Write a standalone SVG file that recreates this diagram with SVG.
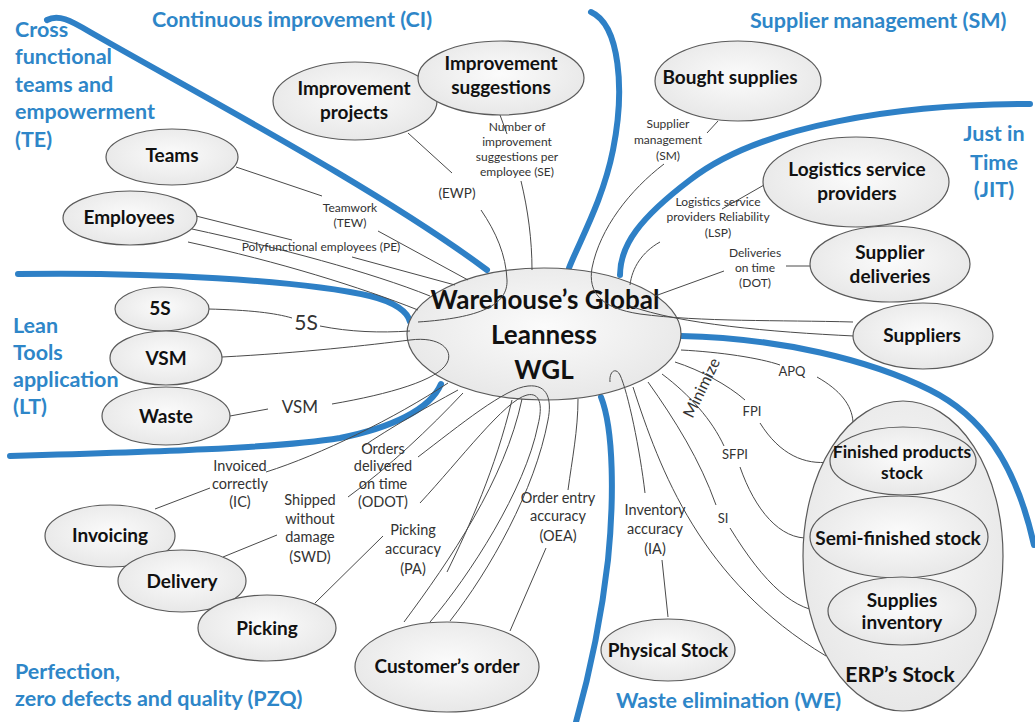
<svg xmlns="http://www.w3.org/2000/svg" width="1035" height="722" viewBox="0 0 1035 722">
<style>
.bg{fill:#ffffff}
.blue{fill:none;stroke:#2e80c6;stroke-width:6;stroke-linecap:round}
.hd{font-family:Lato,"Liberation Sans",sans-serif;font-weight:bold;font-size:21.5px;fill:#2e86c8}
.nd{fill:url(#ng);stroke:#5a5a5a;stroke-width:1.2}
.nt{font-family:Lato,"Liberation Sans",sans-serif;font-weight:bold;font-size:19px;fill:#111;text-anchor:middle}
.c{fill:none;stroke:#4a4a4a;stroke-width:1}
.sl{font-family:Lato,"Liberation Sans",sans-serif;font-size:12px;fill:#333;text-anchor:middle}
.ml{font-family:Lato,"Liberation Sans",sans-serif;font-size:14.5px;fill:#333;text-anchor:middle}
.kl{font-family:Lato,"Liberation Sans",sans-serif;font-size:13px;fill:#333;text-anchor:middle}
</style>
<defs>
<radialGradient id="ng" cx="50%" cy="45%" r="60%">
<stop offset="0" stop-color="#fbfbfb"/>
<stop offset="1" stop-color="#e6e6e6"/>
</radialGradient>
</defs>
<rect class="bg" x="0" y="0" width="1035" height="722"/>

<g id="dividers">
<path class="blue" d="M47,20 C58,14 70,20 90,32 C200,95 380,190 487,270"/>
<path class="blue" d="M591,12 C620,25 625,90 613,150 C603,200 580,240 569,268"/>
<path class="blue" d="M1030,104 C900,104 760,125 690,180 C640,218 620,245 620,275"/>
<path class="blue" d="M18,274 C150,272 300,280 370,296 C395,302 408,312 410,322"/>
<path class="blue" d="M10,456 C150,452 280,448 340,438 C390,428 430,410 441,384"/>
<path class="blue" d="M601,397 C614,430 614,500 608,560 C600,630 585,690 576,722"/>
<path class="blue" d="M681,336 C780,338 870,360 930,390 C980,415 1015,460 1034,545"/>
</g>

<g id="section-labels">
<text class="hd" x="15" y="37">Cross</text>
<text class="hd" x="15" y="64">functional</text>
<text class="hd" x="15" y="92">teams and</text>
<text class="hd" x="15" y="119">empowerment</text>
<text class="hd" x="15" y="147">(TE)</text>
<text class="hd" x="152" y="27">Continuous improvement (CI)</text>
<text class="hd" x="750" y="28">Supplier management (SM)</text>
<text class="hd" x="994" y="141" text-anchor="middle">Just in</text>
<text class="hd" x="994" y="170" text-anchor="middle">Time</text>
<text class="hd" x="994" y="197" text-anchor="middle">(JIT)</text>
<text class="hd" x="13" y="333">Lean</text>
<text class="hd" x="13" y="360">Tools</text>
<text class="hd" x="13" y="387">application</text>
<text class="hd" x="13" y="414">(LT)</text>
<text class="hd" x="15" y="679">Perfection,</text>
<text class="hd" x="15" y="706">zero defects and quality (PZQ)</text>
<text class="hd" x="616" y="708">Waste elimination (WE)</text>
</g>

<g id="node-wgl">
<ellipse class="nd" cx="544" cy="334" rx="137" ry="66"/>
<text class="nt" style="font-size:26px" x="545" y="309">Warehouse’s Global</text>
<text class="nt" style="font-size:26px" x="544" y="344">Leanness</text>
<text class="nt" style="font-size:26px" x="544" y="379">WGL</text>
</g>

<g id="connectors">
<path class="c" d="M236,167 L322,196"/>
<path class="c" d="M378,231 L468,280"/>
<path class="c" d="M196,216 L292,240"/>
<path class="c" d="M352,257 L455,285"/>
<path class="c" d="M192,229 C280,248 370,272 430,296"/>
<path class="c" d="M188,242 C280,262 360,287 418,310"/>
<path class="c" d="M408,133 L452,173"/>
<path class="c" d="M481,210 C496,232 506,255 507,280 C508,305 480,318 418,322"/>
<path class="c" d="M500,115 L507,134"/>
<path class="c" d="M521,181 C528,210 532,240 532,270"/>
<path class="c" d="M718,121 L707,133"/>
<path class="c" d="M664,164 C630,190 600,228 592,268 C588,292 600,308 640,314 C700,322 780,320 853,322"/>
<path class="c" d="M630,306 C680,324 770,332 854,336"/>
<path class="c" d="M764,185 L722,209"/>
<path class="c" d="M660,242 C642,252 632,268 630,285"/>
<path class="c" d="M810,266 L786,266"/>
<path class="c" d="M724,271 L655,296"/>
<path class="c" d="M208,309 C250,310 275,313 292,318"/>
<path class="c" d="M320,326 C350,332 380,333 410,331"/>
<path class="c" d="M222,357 C300,353 370,345 410,340 C440,336 454,350 447,363 C438,380 390,394 332,404"/>
<path class="c" d="M230,416 L268,409"/>
<path class="c" d="M155,509 L210,488"/>
<path class="c" d="M266,472 C320,455 395,418 448,383"/>
<path class="c" d="M223,557 L277,535"/>
<path class="c" d="M348,497 C388,468 430,428 463,393"/>
<path class="c" d="M315,603 L383,536"/>
<path class="c" d="M447,572 C470,525 495,470 512,400"/>
<path class="c" d="M362,447 C390,428 425,408 458,390"/>
<path class="c" d="M404,622 C450,560 505,480 522,399"/>
<path class="c" d="M418,457 C460,425 505,388 528,386 C548,384 552,400 548,420 C535,490 490,570 450,621"/>
<path class="c" d="M420,503 C460,460 505,400 527,395 C540,392 543,405 538,425 C525,490 470,575 430,622"/>
<path class="c" d="M510,631 L546,548"/>
<path class="c" d="M568,490 C572,460 578,430 578,399"/>
<path class="c" d="M668,617 L662,560"/>
<path class="c" d="M645,493 C640,450 628,392 620,375 C616,367 609,371 610,382"/>
<path class="c" d="M633,387 C660,470 700,580 826,656"/>
<path class="c" d="M648,382 C675,420 700,460 716,505"/>
<path class="c" d="M730,528 C765,585 795,612 828,612"/>
<path class="c" d="M662,374 C690,395 712,420 724,446"/>
<path class="c" d="M740,467 C755,510 780,540 810,538"/>
<path class="c" d="M675,362 C700,370 728,385 745,400"/>
<path class="c" d="M760,423 C780,455 805,465 830,462"/>
<path class="c" d="M681,350 C720,352 760,358 780,365"/>
<path class="c" d="M817,377 C840,390 852,405 853,422"/>
</g>

<g id="connector-labels">
<text class="sl" x="517" y="131">Number of</text>
<text class="sl" x="517" y="146">improvement</text>
<text class="sl" x="517" y="161">suggestions per</text>
<text class="sl" x="517" y="176">employee  (SE)</text>
<text class="sl" style="font-size:13.5px" x="457" y="198">(EWP)</text>
<text class="sl" x="350" y="212">Teamwork</text>
<text class="sl" x="350" y="227">(TEW)</text>
<text class="sl" x="321" y="251">Polyfunctional employees (PE)</text>
<text class="sl" x="668" y="128">Supplier</text>
<text class="sl" x="668" y="144">management</text>
<text class="sl" x="668" y="160">(SM)</text>
<text class="sl" x="718" y="206">Logistics service</text>
<text class="sl" x="718" y="221">providers Reliability</text>
<text class="sl" x="718" y="237">(LSP)</text>
<text class="sl" x="755" y="257">Deliveries</text>
<text class="sl" x="755" y="272">on time</text>
<text class="sl" x="755" y="287">(DOT)</text>
<text class="sl" style="font-size:21px" x="306" y="330">5S</text>
<text class="sl" style="font-size:17px" x="300" y="413">VSM</text>
<text class="kl" x="792" y="376">APQ</text>
<text class="kl" x="752" y="416">FPI</text>
<text class="kl" x="735" y="459">SFPI</text>
<text class="kl" x="723" y="523">SI</text>
<text class="sl" style="font-size:16px" transform="translate(702,388) rotate(-64)" y="5">Minimize</text>
<text class="ml" x="240" y="471">Invoiced</text>
<text class="ml" x="240" y="489">correctly</text>
<text class="ml" x="240" y="507">(IC)</text>
<text class="ml" x="310" y="505">Shipped</text>
<text class="ml" x="310" y="524">without</text>
<text class="ml" x="310" y="542">damage</text>
<text class="ml" x="310" y="562">(SWD)</text>
<text class="ml" x="383" y="454">Orders</text>
<text class="ml" x="383" y="471">delivered</text>
<text class="ml" x="383" y="489">on time</text>
<text class="ml" x="383" y="507">(ODOT)</text>
<text class="ml" x="413" y="535">Picking</text>
<text class="ml" x="413" y="554">accuracy</text>
<text class="ml" x="413" y="574">(PA)</text>
<text class="ml" x="558" y="503">Order entry</text>
<text class="ml" x="558" y="521">accuracy</text>
<text class="ml" x="558" y="541">(OEA)</text>
<text class="ml" x="655" y="515">Inventory</text>
<text class="ml" x="655" y="534">accuracy</text>
<text class="ml" x="655" y="554">(IA)</text>
</g>

<g id="node-improvement-projects">
<ellipse class="nd" cx="355" cy="101" rx="82" ry="39"/>
<text class="nt" x="354" y="95">Improvement</text>
<text class="nt" x="354" y="119">projects</text>
</g>
<g id="node-improvement-suggestions">
<ellipse class="nd" cx="501" cy="78" rx="83" ry="37"/>
<text class="nt" x="501" y="70">Improvement</text>
<text class="nt" x="501" y="94">suggestions</text>
</g>
<g id="node-bought-supplies">
<ellipse class="nd" cx="738" cy="81" rx="83" ry="40"/>
<text class="nt" x="730" y="84">Bought supplies</text>
</g>
<g id="node-teams">
<ellipse class="nd" cx="172" cy="157" rx="66" ry="28"/>
<text class="nt" x="172" y="162">Teams</text>
</g>
<g id="node-employees">
<ellipse class="nd" cx="130" cy="218" rx="67" ry="27"/>
<text class="nt" x="129" y="224">Employees</text>
</g>
<g id="node-logistics">
<ellipse class="nd" cx="856" cy="182" rx="93" ry="45"/>
<text class="nt" x="857" y="176">Logistics service</text>
<text class="nt" x="857" y="200">providers</text>
</g>
<g id="node-supplier-deliveries">
<ellipse class="nd" cx="890" cy="264" rx="80" ry="38"/>
<text class="nt" x="890" y="259">Supplier</text>
<text class="nt" x="890" y="283">deliveries</text>
</g>
<g id="node-suppliers">
<ellipse class="nd" cx="923" cy="336" rx="70" ry="33"/>
<text class="nt" x="922" y="342">Suppliers</text>
</g>
<g id="node-5s">
<ellipse class="nd" cx="162" cy="309" rx="47" ry="22"/>
<text class="nt" x="160" y="315">5S</text>
</g>
<g id="node-vsm">
<ellipse class="nd" cx="166" cy="358" rx="56" ry="27"/>
<text class="nt" x="166" y="365">VSM</text>
</g>
<g id="node-waste">
<ellipse class="nd" cx="166" cy="416" rx="64" ry="29"/>
<text class="nt" x="166" y="423">Waste</text>
</g>
<g id="node-invoicing">
<ellipse class="nd" cx="110" cy="536" rx="65" ry="31"/>
<text class="nt" x="110" y="542">Invoicing</text>
</g>
<g id="node-delivery">
<ellipse class="nd" cx="182" cy="581" rx="64" ry="31"/>
<text class="nt" x="182" y="588">Delivery</text>
</g>
<g id="node-picking">
<ellipse class="nd" cx="267" cy="628" rx="69" ry="33"/>
<text class="nt" x="267" y="635">Picking</text>
</g>
<g id="node-customers-order">
<ellipse class="nd" cx="447" cy="667" rx="92" ry="45"/>
<text class="nt" x="447" y="673">Customer’s order</text>
</g>
<g id="node-physical-stock">
<ellipse class="nd" cx="668" cy="650" rx="67" ry="31"/>
<text class="nt" x="668" y="657">Physical Stock</text>
</g>
<g id="node-erp-stock">
<ellipse class="nd" cx="903" cy="556" rx="100" ry="155"/>
<text class="nt" style="font-size:21px" x="900" y="682">ERP’s Stock</text>
</g>
<g id="node-finished-products">
<ellipse class="nd" cx="903" cy="461" rx="73" ry="34"/>
<text class="nt" style="font-size:17.5px" x="902" y="458">Finished products</text>
<text class="nt" style="font-size:17.5px" x="902" y="479">stock</text>
</g>
<g id="node-semi-finished">
<ellipse class="nd" cx="899" cy="537" rx="89" ry="41"/>
<text class="nt" x="898" y="545">Semi-finished stock</text>
</g>
<g id="node-supplies-inventory">
<ellipse class="nd" cx="902" cy="611" rx="74" ry="34"/>
<text class="nt" x="902" y="607">Supplies</text>
<text class="nt" x="902" y="629">inventory</text>
</g>
</svg>
